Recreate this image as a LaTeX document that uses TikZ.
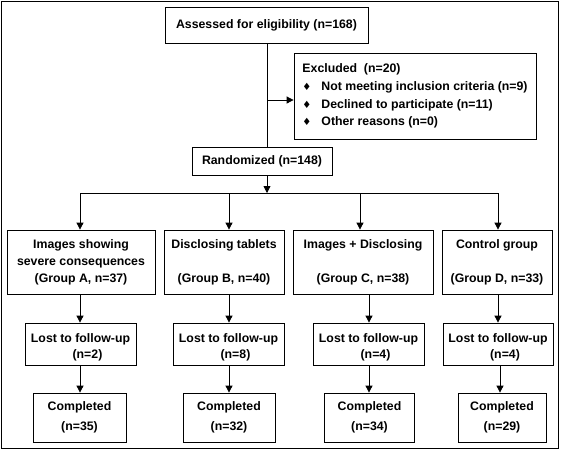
\documentclass[tikz,border=0pt]{standalone}
\usepackage{fontspec}
\setmainfont{Liberation Sans}
\newfontfamily\symfont{DejaVu Sans}
\usetikzlibrary{arrows.meta}
\newcommand{\exbul}{\makebox[19pt][l]{\hspace{0pt}{\symfont\fontsize{10}{10}\selectfont ♦}}}
\newcommand{\lostline}{\rule{0pt}{15pt}Lost to follow-up}
\begin{document}
\begin{tikzpicture}[x=1pt,y=-1pt,
  box/.style={draw=black,line width=0.8pt,rectangle,inner sep=0pt,align=center,
    font={\bfseries\fontsize{12.3}{17}\selectfont}},
  lostbox/.style={box,minimum height=42pt,font={\bfseries\fontsize{12.3}{16}\selectfont}},
  arr/.style={draw=black,line width=0.8pt,-{Triangle[length=7pt,width=7pt]}},
  ln/.style={draw=black,line width=0.8pt}]
\useasboundingbox (0,0) rectangle (562,451);
\draw[line width=1.2pt] (1.5,1.5) rectangle (558.5,448.5);

% top part
\node[box,minimum width=203pt,minimum height=36pt] (assess) at (266.5,25) {Assessed for eligibility (n=168)};
\node[box,minimum width=242pt,minimum height=86pt,align=left,
  font={\bfseries\fontsize{12.3}{17.7}\selectfont}] (excl) at (415,96)
  {Excluded\ \ (n=20)\\ \exbul Not meeting inclusion criteria (n=9)\\ \exbul Declined to participate (n=11)\\ \exbul Other reasons (n=0)};
\node[box,minimum width=140pt,minimum height=28pt] (rand) at (262,161) {Randomized (n=148)};

\coordinate (trunk) at (267,193);
\coordinate (branch) at (267,100);
\coordinate (xA) at (80,193);
\coordinate (xB) at (229,193);
\coordinate (xC) at (360,193);
\coordinate (xD) at (498,193);

% groups
\node[box,minimum width=148pt,minimum height=64pt] (gA) at (81,262) {Images showing\\severe consequences\\(Group A, n=37)};
\node[box,minimum width=120pt,minimum height=64pt] (gB) at (224,262) {Disclosing tablets\\[17pt](Group B, n=40)};
\node[box,minimum width=140pt,minimum height=64pt] (gC) at (363,262) {Images + Disclosing\\[17pt](Group C, n=38)};
\node[box,minimum width=110pt,minimum height=64pt] (gD) at (497,262) {Control group\\[17pt](Group D, n=33)};

% lost
\node[lostbox,minimum width=111pt] (lA) at (80.5,344) {\lostline\\\hspace*{14pt}(n=2)};
\node[lostbox,minimum width=111pt] (lB) at (228.5,344) {\lostline\\\hspace*{14pt}(n=8)};
\node[lostbox,minimum width=111pt] (lC) at (368.5,344) {\lostline\\\hspace*{14pt}(n=4)};
\node[lostbox,minimum width=110pt] (lD) at (498,344) {\lostline\\\hspace*{14pt}(n=4)};

% completed
\node[box,minimum width=93pt,minimum height=49pt] (cA) at (79.5,417.5) {Completed\\[3pt](n=35)};
\node[box,minimum width=92pt,minimum height=49pt] (cB) at (229,417.5) {Completed\\[3pt](n=32)};
\node[box,minimum width=90pt,minimum height=49pt] (cC) at (369.5,417.5) {Completed\\[3pt](n=34)};
\node[box,minimum width=88pt,minimum height=49pt] (cD) at (502,417.5) {Completed\\[3pt](n=29)};

\coordinate (yA) at (80,0);
\coordinate (yB) at (229,0);
\coordinate (yC) at (369,0);
\coordinate (yD) at (498,0);
\coordinate (zD) at (500,0);

% connectors
\draw[ln] (assess.south -| trunk) -- (rand.north -| trunk);
\draw[arr] (branch) -- (excl.west |- branch);
\draw[arr] (rand.south -| trunk) -- (trunk);
\draw[ln] (xA) -- (xD);
\draw[arr] (xA) -- (gA.north -| xA);
\draw[arr] (xB) -- (gB.north -| xB);
\draw[arr] (xC) -- (gC.north -| xC);
\draw[arr] (xD) -- (gD.north -| xD);

\draw[arr] (gA.south -| yA) -- (lA.north -| yA);
\draw[arr] (gB.south -| yB) -- (lB.north -| yB);
\draw[arr] (gC.south -| yC) -- (lC.north -| yC);
\draw[arr] (gD.south -| yD) -- (lD.north -| yD);

\draw[arr] (lA.south -| yA) -- (cA.north -| yA);
\draw[arr] (lB.south -| yB) -- (cB.north -| yB);
\draw[arr] (lC.south -| yC) -- (cC.north -| yC);
\draw[arr] (lD.south -| zD) -- (cD.north -| zD);
\end{tikzpicture}
\end{document}
